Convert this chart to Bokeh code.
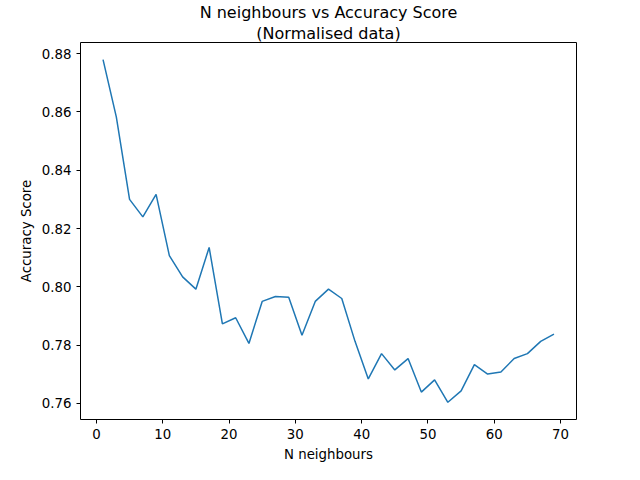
from bokeh.plotting import figure
from bokeh.models import Range1d, FixedTicker, Title, NumeralTickFormatter
from bokeh.embed import file_html
from bokeh.resources import INLINE

neighbours = list(range(1, 70, 2))
accuracy = [0.8779, 0.8583, 0.8300, 0.8240, 0.8317, 0.8107, 0.8034, 0.7992,
            0.8135, 0.7873, 0.7894, 0.7806, 0.7950, 0.7967, 0.7964, 0.7834,
            0.7950, 0.7992, 0.7960, 0.7813, 0.7684, 0.7771, 0.7715, 0.7754,
            0.7639, 0.7681, 0.7604, 0.7643, 0.7733, 0.7701, 0.7708, 0.7754,
            0.7771, 0.7813, 0.7838]

p = figure(width=624, height=464, output_backend="svg", toolbar_location=None,
           x_range=Range1d(-2.4, 72.4), y_range=Range1d(0.7545, 0.8838),
           min_border_left=80, min_border_right=48, min_border_top=6, min_border_bottom=37)
for line in ["(Normalised data)", "N neighbours vs Accuracy Score"]:
    p.add_layout(Title(text=line, align="center", text_font="DejaVu Sans",
                       text_font_style="normal", text_font_size="12pt",
                       text_color="black", standoff=0), "above")
p.line(neighbours, accuracy, line_color="#1f77b4", line_width=1.5)

p.xaxis.ticker = FixedTicker(ticks=[0, 10, 20, 30, 40, 50, 60, 70])
p.yaxis.ticker = FixedTicker(ticks=[0.76, 0.78, 0.80, 0.82, 0.84, 0.86, 0.88])
p.yaxis.formatter = NumeralTickFormatter(format="0.00")
p.xaxis.axis_label = "N neighbours"
p.yaxis.axis_label = "Accuracy Score"
for ax in (p.xaxis[0], p.yaxis[0]):
    ax.axis_label_text_font = "DejaVu Sans"
    ax.axis_label_text_font_style = "normal"
    ax.axis_label_text_font_size = "10pt"
    ax.axis_label_text_color = "black"
    ax.major_label_text_font = "DejaVu Sans"
    ax.major_label_text_font_size = "10pt"
    ax.major_label_text_color = "black"
    ax.minor_tick_line_color = None
    ax.major_tick_out = 4
    ax.major_tick_in = 0
    ax.major_tick_line_color = "black"
    ax.axis_line_color = None
p.xgrid.grid_line_color = None
p.ygrid.grid_line_color = None
p.outline_line_color = "black"
p.outline_line_alpha = 1

open("out.html", "w").write(file_html(p, INLINE))
